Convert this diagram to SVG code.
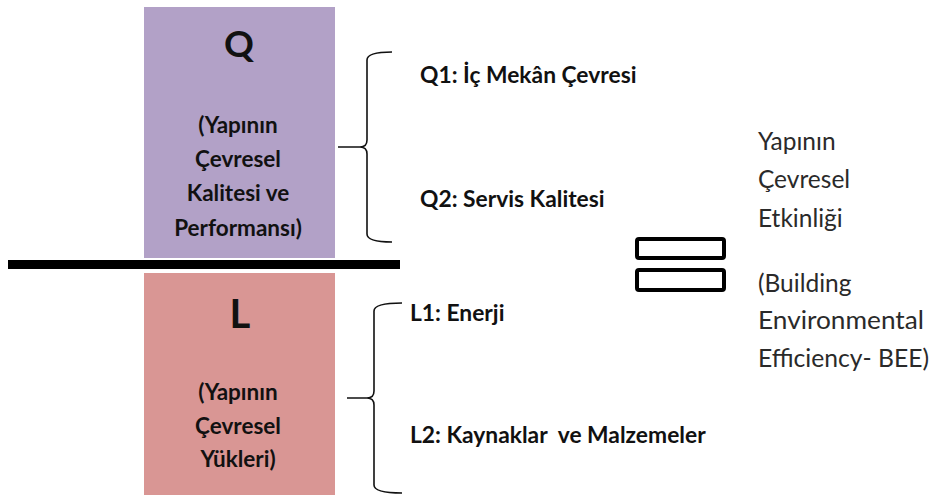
<svg xmlns="http://www.w3.org/2000/svg" width="933" height="497" viewBox="0 0 933 497">
<style>
.b{font-family:Lato,"Open Sans","Liberation Sans",sans-serif;font-weight:bold;fill:#111;}
.r{font-family:Lato,"Open Sans","Liberation Sans",sans-serif;fill:#2a2a2a;font-size:24.5px;}
.big{text-anchor:middle;}
.sub{font-size:22.5px;text-anchor:middle;}
.item{font-size:22.8px;}
.br{fill:none;stroke:#111;stroke-width:1.6;}
</style>
<rect width="933" height="497" fill="#fff"/>
<g id="Q">
<rect x="144" y="7" width="191" height="251" fill="#b2a1c7"/>
<text class="b big" x="239" y="57" font-size="37">Q</text>
<text class="b sub" x="238" y="133">(Yapının</text>
<text class="b sub" x="238" y="167">Çevresel</text>
<text class="b sub" x="238" y="201">Kalitesi ve</text>
<text class="b sub" x="238" y="236">Performansı)</text>
</g>
<g id="L">
<rect x="144" y="273" width="191" height="222" fill="#d99694"/>
<text class="b big" x="240" y="328" font-size="40">L</text>
<text class="b sub" x="238" y="400">(Yapının</text>
<text class="b sub" x="238" y="434">Çevresel</text>
<text class="b sub" x="238" y="467">Yükleri)</text>
</g>
<g id="divider">
<rect x="8" y="260" width="392" height="9" fill="#000"/>
</g>
<g id="connectors">
<path class="br" d="M392 52 Q367 52 367 60 L367 140 Q367 147 360 147 L338 147 M360 147 Q367 147 367 154 L367 234 Q367 242 392 242"/>
<path class="br" d="M402 303 Q374 303 374 311 L374 391 Q374 398 367 398 L347 398 M367 398 Q374 398 374 405 L374 485 Q374 493 402 493"/>
</g>
<g id="Q1"><text class="b item" x="420" y="83">Q1: İç Mekân Çevresi</text></g>
<g id="Q2"><text class="b item" x="420" y="207">Q2: Servis Kalitesi</text></g>
<g id="L1"><text class="b item" x="410" y="321">L1: Enerji</text></g>
<g id="L2"><text class="b item" x="410" y="443" xml:space="preserve">L2: Kaynaklar  ve Malzemeler</text></g>
<g id="equals">
<rect x="637" y="239" width="87" height="19" rx="2" fill="none" stroke="#000" stroke-width="4"/>
<rect x="637" y="270" width="87" height="20" rx="2" fill="none" stroke="#000" stroke-width="4"/>
</g>
<g id="BEE">
<text class="r" x="758" y="150">Yapının</text>
<text class="r" x="758" y="188">Çevresel</text>
<text class="r" x="758" y="227">Etkinliği</text>
<text class="r" x="758" y="292">(Building</text>
<text class="r" x="758" y="329" textLength="166" lengthAdjust="spacingAndGlyphs">Environmental</text>
<text class="r" x="758" y="367" textLength="171" lengthAdjust="spacingAndGlyphs">Efficiency- BEE)</text>
</g>
</svg>
